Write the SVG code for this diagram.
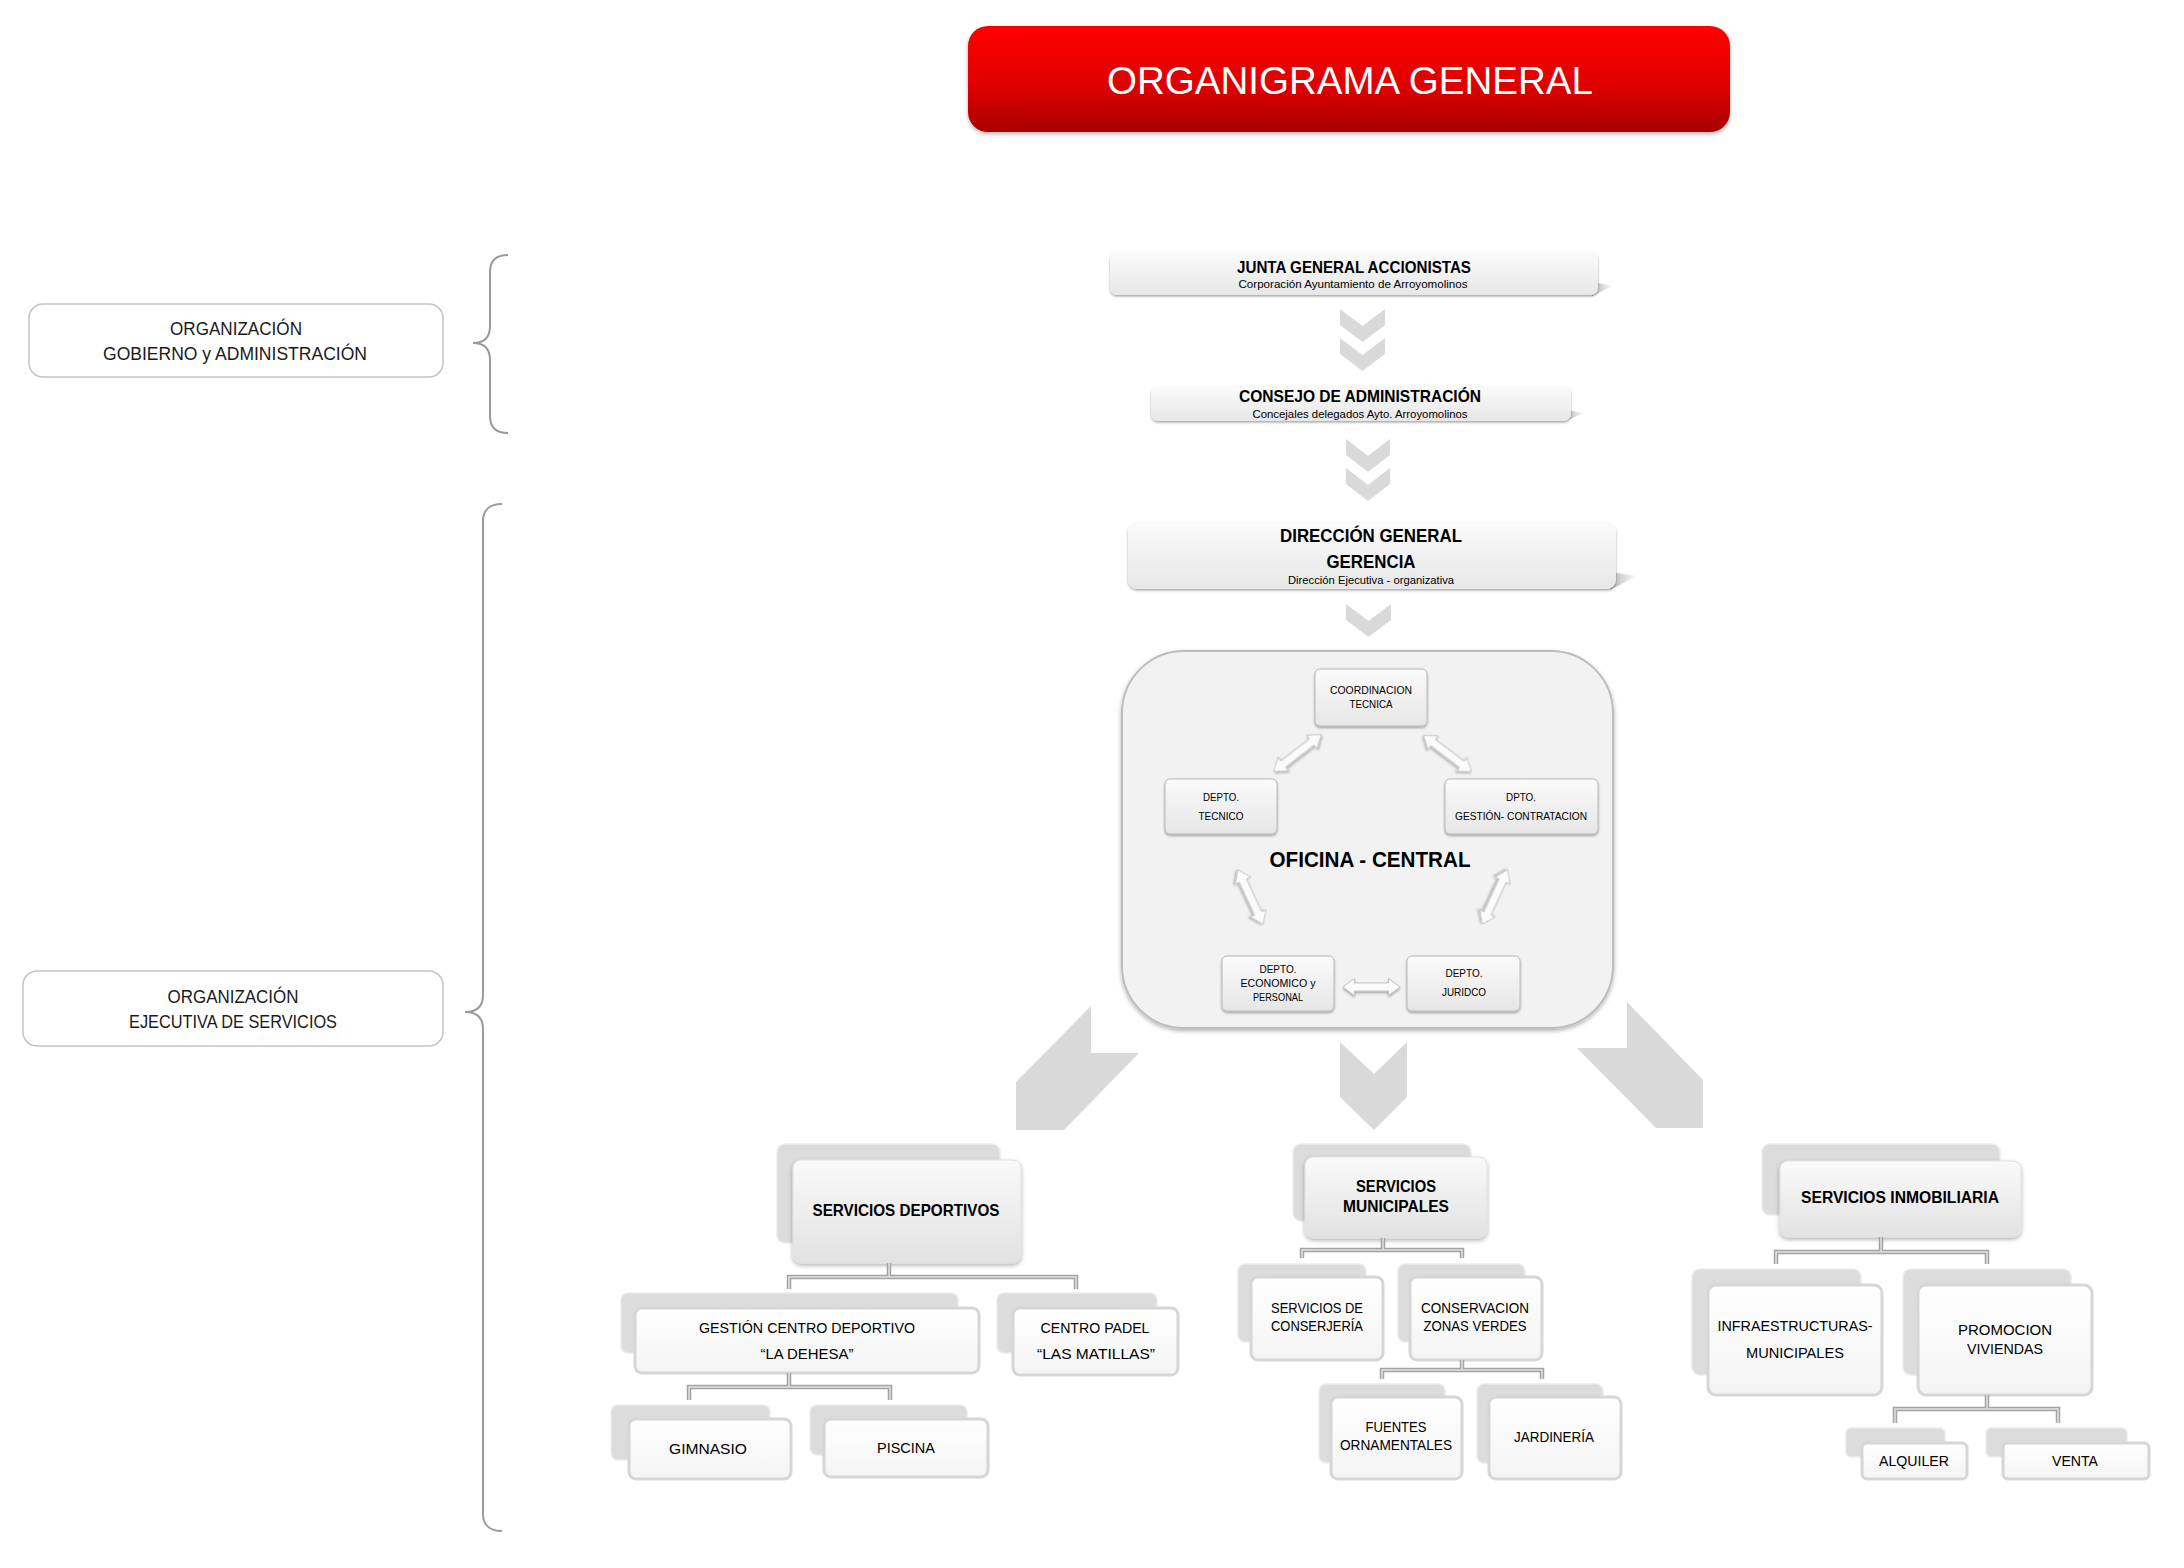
<svg xmlns="http://www.w3.org/2000/svg" width="2184" height="1568" viewBox="0 0 2184 1568">
<defs>
<linearGradient id="gRed" x1="0" y1="0" x2="0" y2="1"><stop offset="0" stop-color="#ff0000"/><stop offset="0.55" stop-color="#e00000"/><stop offset="1" stop-color="#a80000"/></linearGradient>
<linearGradient id="gHead" x1="0" y1="0" x2="0" y2="1"><stop offset="0" stop-color="#fbfbfb"/><stop offset="1" stop-color="#e7e7e7"/></linearGradient>
<linearGradient id="gNode" x1="0" y1="0" x2="0" y2="1"><stop offset="0" stop-color="#fbfbfb"/><stop offset="1" stop-color="#e6e6e6"/></linearGradient>
<linearGradient id="gL1" x1="0" y1="0" x2="0" y2="1"><stop offset="0" stop-color="#fafafa"/><stop offset="1" stop-color="#e2e2e2"/></linearGradient>
<linearGradient id="gL2" x1="0" y1="0" x2="0" y2="1"><stop offset="0" stop-color="#ffffff"/><stop offset="1" stop-color="#f4f4f4"/></linearGradient>
<linearGradient id="gWedge" x1="0" y1="0" x2="1" y2="0"><stop offset="0" stop-color="#777" stop-opacity="0.8"/><stop offset="1" stop-color="#bbb" stop-opacity="0.1"/></linearGradient>
<filter id="sh" x="-10%" y="-10%" width="120%" height="140%"><feDropShadow dx="0" dy="2" stdDeviation="2" flood-color="#000" flood-opacity="0.3"/></filter>
<filter id="shs" x="-10%" y="-10%" width="120%" height="140%"><feDropShadow dx="0" dy="1.5" stdDeviation="1.2" flood-color="#000" flood-opacity="0.35"/></filter>
<path id="dbl" d="M-30,0 L-18,-8.5 L-18,-4 L18,-4 L18,-8.5 L30,0 L18,8.5 L18,4 L-18,4 L-18,8.5 Z"/>
<style>
.t{font-family:"Liberation Sans",Arial,sans-serif;text-anchor:middle;fill:#000}
.b{font-weight:bold}
.lbl{fill:#1a1a1a}
.side{fill:#fff;stroke:#c4c4c4;stroke-width:1.5}
.head{fill:url(#gHead);filter:url(#shs)}
.wedge{fill:url(#gWedge)}
.node{fill:url(#gNode);stroke:#b8b8b8;stroke-width:1;filter:url(#shs)}
.back{fill:#dcdcdc;stroke:#ececec;stroke-width:1.5}
.f1{fill:url(#gL1);stroke:#e0e0e0;stroke-width:1;filter:url(#sh)}
.f2{fill:url(#gL2);stroke:#d6d6d6;stroke-width:3}
.chev{fill:#d9d9d9}
.big{fill:#d9d9d9}
.brace{fill:none;stroke:#9a9a9a;stroke-width:2}
.dbl{fill:#fbfbfb;stroke:#c2c2c2;stroke-width:1;filter:url(#shs)}
.conO{fill:none;stroke:#a3a3a3;stroke-width:4.5}
.conI{fill:none;stroke:#e2e2e2;stroke-width:1.5}
</style>
</defs>

<g id="title">
<rect x="968" y="26" width="762" height="106" rx="20" fill="url(#gRed)" filter="url(#sh)"/>
<text class="t" x="1350" y="94" font-size="38" style="fill:#fff" textLength="486" lengthAdjust="spacingAndGlyphs">ORGANIGRAMA GENERAL</text>
</g>

<g id="org-gobierno">
<rect class="side" x="29" y="304" width="414" height="73" rx="14"/>
<text class="t lbl" x="236" y="335" font-size="19" textLength="132" lengthAdjust="spacingAndGlyphs">ORGANIZACIÓN</text>
<text class="t lbl" x="235" y="360" font-size="19" textLength="264" lengthAdjust="spacingAndGlyphs">GOBIERNO y ADMINISTRACIÓN</text>
</g>
<g id="org-ejecutiva">
<rect class="side" x="23" y="971" width="420" height="75" rx="14"/>
<text class="t lbl" x="233" y="1003" font-size="19" textLength="131" lengthAdjust="spacingAndGlyphs">ORGANIZACIÓN</text>
<text class="t lbl" x="233" y="1028" font-size="19" textLength="208" lengthAdjust="spacingAndGlyphs">EJECUTIVA DE SERVICIOS</text>
</g>

<g id="braces">
<path class="brace" d="M508,255 C495,255 490,262 490,272 V326 C490,336 485,343 473,343 C485,343 490,350 490,360 V416 C490,426 495,433 508,433"/>
<path class="brace" d="M502,504 C489,504 483,511 483,521 V995 C483,1005 478,1012 465,1012 C478,1012 483,1019 483,1029 V1514 C483,1524 489,1531 502,1531"/>
</g>

<g id="junta">
<polygon class="wedge" points="1588,281 1613,286 1592,296"/>
<rect class="head" x="1110" y="252" width="488" height="43" rx="7"/>
<text class="t b" x="1354" y="273" font-size="17" textLength="234" lengthAdjust="spacingAndGlyphs">JUNTA GENERAL ACCIONISTAS</text>
<text class="t" x="1353" y="288" font-size="11.5" textLength="229" lengthAdjust="spacingAndGlyphs">Corporación Ayuntamiento de Arroyomolinos</text>
</g>

<g id="consejo">
<polygon class="wedge" points="1562,409 1584,413 1566,421"/>
<rect class="head" x="1151" y="386" width="420" height="35" rx="7"/>
<text class="t b" x="1360" y="402" font-size="17" textLength="242" lengthAdjust="spacingAndGlyphs">CONSEJO DE ADMINISTRACIÓN</text>
<text class="t" x="1360" y="418" font-size="11.5" textLength="215" lengthAdjust="spacingAndGlyphs">Concejales delegados Ayto. Arroyomolinos</text>
</g>

<g id="direccion">
<polygon class="wedge" points="1604,571 1637,576 1610,590"/>
<rect class="head" x="1128" y="522" width="488" height="67" rx="9"/>
<text class="t b" x="1371" y="542" font-size="18" textLength="182" lengthAdjust="spacingAndGlyphs">DIRECCIÓN GENERAL</text>
<text class="t b" x="1371" y="568" font-size="18" textLength="89" lengthAdjust="spacingAndGlyphs">GERENCIA</text>
<text class="t" x="1371" y="584" font-size="11.5" textLength="166" lengthAdjust="spacingAndGlyphs">Dirección Ejecutiva - organizativa</text>
</g>

<g id="oficina-central">
<rect x="1122" y="651" width="491" height="377" rx="62" fill="#f2f2f2" stroke="#bdbdbd" stroke-width="2" filter="url(#sh)"/>
<text class="t b" x="1370" y="867" font-size="22" textLength="201" lengthAdjust="spacingAndGlyphs">OFICINA - CENTRAL</text>
</g>

<g id="coordinacion-tecnica">
<rect class="node" x="1315" y="669" width="112" height="57" rx="5"/>
<text class="t" x="1371" y="694" font-size="11" textLength="82" lengthAdjust="spacingAndGlyphs">COORDINACION</text>
<text class="t" x="1371" y="708" font-size="11" textLength="43" lengthAdjust="spacingAndGlyphs">TECNICA</text>
</g>
<g id="depto-tecnico">
<rect class="node" x="1165" y="779" width="112" height="55" rx="5"/>
<text class="t" x="1221" y="801" font-size="11" textLength="36" lengthAdjust="spacingAndGlyphs">DEPTO.</text>
<text class="t" x="1221" y="820" font-size="11" textLength="45" lengthAdjust="spacingAndGlyphs">TECNICO</text>
</g>
<g id="dpto-gestion">
<rect class="node" x="1445" y="779" width="153" height="55" rx="5"/>
<text class="t" x="1521" y="801" font-size="11" textLength="30" lengthAdjust="spacingAndGlyphs">DPTO.</text>
<text class="t" x="1521" y="820" font-size="11" textLength="132" lengthAdjust="spacingAndGlyphs">GESTIÓN- CONTRATACION</text>
</g>
<g id="depto-economico">
<rect class="node" x="1222" y="956" width="112" height="55" rx="5"/>
<text class="t" x="1278" y="973" font-size="11" textLength="37" lengthAdjust="spacingAndGlyphs">DEPTO.</text>
<text class="t" x="1278" y="987" font-size="11" textLength="75" lengthAdjust="spacingAndGlyphs">ECONOMICO y</text>
<text class="t" x="1278" y="1001" font-size="11" textLength="50" lengthAdjust="spacingAndGlyphs">PERSONAL</text>
</g>
<g id="depto-juridico">
<rect class="node" x="1407" y="956" width="113" height="55" rx="5"/>
<text class="t" x="1464" y="977" font-size="11" textLength="37" lengthAdjust="spacingAndGlyphs">DEPTO.</text>
<text class="t" x="1464" y="996" font-size="11" textLength="44" lengthAdjust="spacingAndGlyphs">JURIDCO</text>
</g>

<g id="serv-deportivos">
<rect class="back" x="777" y="1144" width="223" height="99" rx="8"/>
<rect class="f1" x="793" y="1160" width="228" height="103" rx="8"/>
<text class="t b" x="906" y="1216" font-size="16.5" textLength="187" lengthAdjust="spacingAndGlyphs">SERVICIOS DEPORTIVOS</text>
</g>
<g id="gestion-centro">
<rect class="back" x="621" y="1293" width="337" height="60" rx="7"/>
<rect class="f2" x="635" y="1308" width="344" height="65" rx="7"/>
<text class="t" x="807" y="1333" font-size="15.5" textLength="216" lengthAdjust="spacingAndGlyphs">GESTIÓN CENTRO DEPORTIVO</text>
<text class="t" x="807" y="1359" font-size="15.5" textLength="93" lengthAdjust="spacingAndGlyphs">“LA DEHESA”</text>
</g>
<g id="centro-padel">
<rect class="back" x="997" y="1293" width="160" height="60" rx="7"/>
<rect class="f2" x="1013" y="1308" width="165" height="67" rx="7"/>
<text class="t" x="1095" y="1333" font-size="15.5" textLength="109" lengthAdjust="spacingAndGlyphs">CENTRO PADEL</text>
<text class="t" x="1096" y="1359" font-size="15.5" textLength="118" lengthAdjust="spacingAndGlyphs">“LAS MATILLAS”</text>
</g>
<g id="gimnasio">
<rect class="back" x="611" y="1405" width="159" height="55" rx="7"/>
<rect class="f2" x="629" y="1419" width="162" height="60" rx="7"/>
<text class="t" x="708" y="1454" font-size="15.5" textLength="78" lengthAdjust="spacingAndGlyphs">GIMNASIO</text>
</g>
<g id="piscina">
<rect class="back" x="810" y="1405" width="157" height="50" rx="7"/>
<rect class="f2" x="824" y="1419" width="164" height="58" rx="7"/>
<text class="t" x="906" y="1453" font-size="15.5" textLength="58" lengthAdjust="spacingAndGlyphs">PISCINA</text>
</g>

<g id="serv-municipales">
<rect class="back" x="1293" y="1144" width="178" height="77" rx="8"/>
<rect class="f1" x="1305" y="1157" width="182" height="81" rx="8"/>
<text class="t b" x="1396" y="1192" font-size="16" textLength="80" lengthAdjust="spacingAndGlyphs">SERVICIOS</text>
<text class="t b" x="1396" y="1212" font-size="16" textLength="106" lengthAdjust="spacingAndGlyphs">MUNICIPALES</text>
</g>
<g id="conserjeria">
<rect class="back" x="1238" y="1264" width="128" height="78" rx="7"/>
<rect class="f2" x="1251" y="1277" width="132" height="83" rx="7"/>
<text class="t" x="1317" y="1313" font-size="15.5" textLength="92" lengthAdjust="spacingAndGlyphs">SERVICIOS DE</text>
<text class="t" x="1317" y="1331" font-size="15.5" textLength="92" lengthAdjust="spacingAndGlyphs">CONSERJERÍA</text>
</g>
<g id="zonas-verdes">
<rect class="back" x="1398" y="1264" width="127" height="78" rx="7"/>
<rect class="f2" x="1410" y="1277" width="132" height="83" rx="7"/>
<text class="t" x="1475" y="1313" font-size="15.5" textLength="108" lengthAdjust="spacingAndGlyphs">CONSERVACION</text>
<text class="t" x="1475" y="1331" font-size="15.5" textLength="103" lengthAdjust="spacingAndGlyphs">ZONAS VERDES</text>
</g>
<g id="fuentes">
<rect class="back" x="1319" y="1384" width="126" height="79" rx="7"/>
<rect class="f2" x="1331" y="1397" width="131" height="82" rx="7"/>
<text class="t" x="1396" y="1432" font-size="15.5" textLength="61" lengthAdjust="spacingAndGlyphs">FUENTES</text>
<text class="t" x="1396" y="1450" font-size="15.5" textLength="112" lengthAdjust="spacingAndGlyphs">ORNAMENTALES</text>
</g>
<g id="jardineria">
<rect class="back" x="1477" y="1384" width="126" height="79" rx="7"/>
<rect class="f2" x="1489" y="1397" width="132" height="82" rx="7"/>
<text class="t" x="1554" y="1442" font-size="15.5" textLength="80" lengthAdjust="spacingAndGlyphs">JARDINERÍA</text>
</g>

<g id="serv-inmobiliaria">
<rect class="back" x="1762" y="1144" width="238" height="71" rx="8"/>
<rect class="f1" x="1780" y="1161" width="241" height="76" rx="8"/>
<text class="t b" x="1900" y="1203" font-size="16" textLength="198" lengthAdjust="spacingAndGlyphs">SERVICIOS INMOBILIARIA</text>
</g>
<g id="infraestructuras">
<rect class="back" x="1692" y="1269" width="169" height="106" rx="8"/>
<rect class="f2" x="1708" y="1285" width="174" height="110" rx="8"/>
<text class="t" x="1795" y="1331" font-size="15.5" textLength="155" lengthAdjust="spacingAndGlyphs">INFRAESTRUCTURAS-</text>
<text class="t" x="1795" y="1358" font-size="15.5" textLength="98" lengthAdjust="spacingAndGlyphs">MUNICIPALES</text>
</g>
<g id="promocion">
<rect class="back" x="1903" y="1269" width="168" height="106" rx="8"/>
<rect class="f2" x="1918" y="1285" width="174" height="110" rx="8"/>
<text class="t" x="2005" y="1335" font-size="15.5" textLength="94" lengthAdjust="spacingAndGlyphs">PROMOCION</text>
<text class="t" x="2005" y="1354" font-size="15.5" textLength="76" lengthAdjust="spacingAndGlyphs">VIVIENDAS</text>
</g>
<g id="alquiler">
<rect class="back" x="1846" y="1428" width="99" height="29" rx="5"/>
<rect class="f2" x="1862" y="1443" width="105" height="36" rx="5"/>
<text class="t" x="1914" y="1466" font-size="15.5" textLength="70" lengthAdjust="spacingAndGlyphs">ALQUILER</text>
</g>
<g id="venta">
<rect class="back" x="1986" y="1428" width="141" height="29" rx="5"/>
<rect class="f2" x="2003" y="1443" width="146" height="36" rx="5"/>
<text class="t" x="2075" y="1466" font-size="15.5" textLength="46" lengthAdjust="spacingAndGlyphs">VENTA</text>
</g>

<g id="connectors">
<polygon class="chev" points="1340,309 1362.5,326 1385,309 1385,325 1362.5,342 1340,325"/>
<polygon class="chev" points="1340,338 1362.5,355 1385,338 1385,354 1362.5,371 1340,354"/>
<polygon class="chev" points="1346,439 1368,456 1390,439 1390,455 1368,472 1346,455"/>
<polygon class="chev" points="1346,468 1368,485 1390,468 1390,484 1368,501 1346,484"/>
<polygon class="chev" points="1346,604 1368.5,621 1391,604 1391,620 1368.5,637 1346,620"/>
<use href="#dbl" class="dbl" transform="translate(1297.5,753) rotate(-37.8)"/>
<use href="#dbl" class="dbl" transform="translate(1447.5,753.5) rotate(37.1)"/>
<use href="#dbl" class="dbl" transform="translate(1250.5,897) rotate(65.2)"/>
<use href="#dbl" class="dbl" transform="translate(1495,897) rotate(114.9)"/>
<use href="#dbl" class="dbl" transform="translate(1371.5,987) scale(0.95,1)"/>
<polygon class="big" points="1091,1006 1091,1053 1139,1053 1064,1130 1016,1130 1016,1082"/>
<polygon class="big" points="1340,1042 1374,1074 1407,1042 1407,1097 1374,1130 1340,1097"/>
<polygon class="big" points="1627,1002 1703,1080 1703,1128 1656,1128 1577,1048 1627,1048"/>
<path class="conO" d="M889,1263 V1277 M789,1289 V1277 H1076 V1289 M789,1373 V1387 M689,1400 V1387 H890 V1400 M1383,1238 V1250 M1302,1258 V1250 H1462 V1258 M1462,1360 V1370 M1382,1379 V1370 H1542 V1379 M1881,1237 V1252 M1776,1264 V1252 H1987 V1264 M1987,1395 V1409 M1895,1423 V1409 H2058 V1423"/>
<path class="conI" d="M889,1263 V1277 M789,1289 V1277 H1076 V1289 M789,1373 V1387 M689,1400 V1387 H890 V1400 M1383,1238 V1250 M1302,1258 V1250 H1462 V1258 M1462,1360 V1370 M1382,1379 V1370 H1542 V1379 M1881,1237 V1252 M1776,1264 V1252 H1987 V1264 M1987,1395 V1409 M1895,1423 V1409 H2058 V1423"/>
</g>
</svg>
